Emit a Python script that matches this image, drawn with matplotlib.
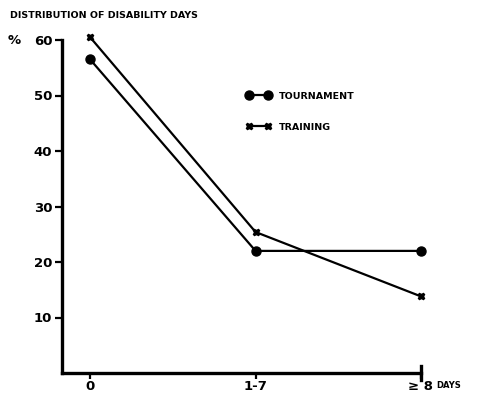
import matplotlib.pyplot as plt

categories = ["0", "1-7", "≥ 8"]
tournament = [56.5, 22.0, 22.0]
training = [60.5, 25.4, 13.8]
yticks = [10, 20, 30, 40, 50, 60]

plt.rcParams["font.family"] = ["DejaVu Sans"]
plt.rcParams["font.weight"] = "bold"

fig = plt.figure(figsize=(4.79, 3.98), dpi=100)
ax = fig.add_axes([62 / 479, 1 - 373 / 398, (421 - 62) / 479, (373 - 40) / 398])

x = list(range(len(categories)))
ax.plot(x, tournament, color="black", lw=1.6, marker="o", ms=6.5, label="TOURNAMENT",
        clip_on=False)
ax.plot(x, training, color="black", lw=1.6, marker="X", ms=5, label="TRAINING",
        clip_on=False)

ax.set_xlim(-0.17, 2.0)
ax.set_ylim(0, 60)
ax.set_yticks(yticks)
ax.set_xticks(x)
ax.set_xticklabels(categories)
ax.spines["top"].set_visible(False)
ax.spines["right"].set_visible(False)
for s in ["left", "bottom"]:
    ax.spines[s].set_linewidth(2.4)
ax.tick_params(width=1.6, length=5, labelsize=9.5, pad=2)
ax.tick_params(axis="x", length=4, pad=1)
for lab in ax.get_xticklabels() + ax.get_yticklabels():
    lab.set_fontweight("bold")

# small hook at the right end of the x axis
ax.plot([2.0, 2.0], [-1.2, 1.2], color="black", lw=2.4, clip_on=False)

fig.text(10 / 479, 1 - 15 / 398, "DISTRIBUTION OF DISABILITY DAYS", fontsize=6.8,
         fontweight="bold", va="center")
fig.text(8 / 479, 1 - 41 / 398, "%", fontsize=9.5, fontweight="bold", va="center")
fig.text(436 / 479, 1 - 385 / 398, "DAYS", fontsize=6, fontweight="bold", va="center")

ax.legend(loc="upper left", bbox_to_anchor=(0.49, 0.87), frameon=False, numpoints=2,
          handlelength=2.6, labelspacing=2.3, prop={"size": 6.8, "weight": "bold"})

fig.savefig("out.png", dpi=100)
